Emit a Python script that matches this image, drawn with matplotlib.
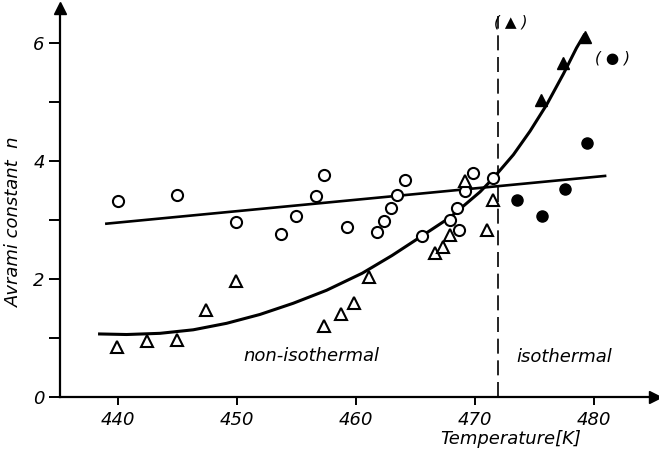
import matplotlib
matplotlib.use("Agg")
import matplotlib.pyplot as plt

plt.rcParams['font.family'] = ['DejaVu Sans']
plt.rcParams['font.style'] = 'italic'

# open circles (non-isothermal, circle series)
circ_T = [440.0, 444.9, 449.9, 453.7, 454.9, 456.6, 457.3, 459.2, 461.7, 462.3,
          462.9, 463.4, 464.1, 465.5, 467.9, 468.5, 468.6, 469.1, 469.8, 471.5]
circ_n = [3.32, 3.42, 2.97, 2.76, 3.07, 3.41, 3.77, 2.89, 2.80, 2.99,
          3.21, 3.42, 3.68, 2.73, 3.00, 3.21, 2.84, 3.50, 3.80, 3.72]
# open triangles (non-isothermal, triangle series)
tri_T = [439.9, 442.4, 444.9, 447.4, 449.9, 457.3, 458.7, 459.8, 461.1,
         466.6, 467.3, 467.9, 469.1, 471.0, 471.5]
tri_n = [0.84, 0.95, 0.97, 1.47, 1.97, 1.21, 1.41, 1.59, 2.03,
         2.44, 2.54, 2.75, 3.66, 2.84, 3.34]
# filled triangles (isothermal)
ftri_T = [475.5, 477.4, 479.2]
ftri_n = [5.03, 5.66, 6.11]
# filled circles (isothermal)
fcirc_T = [473.5, 475.6, 477.5, 479.4]
fcirc_n = [3.34, 3.07, 3.53, 4.30]
# straight fit line (circles)
fit_T = [439.0, 480.9]
fit_n = [2.94, 3.75]
# curved fit (triangles)
curve_T = [438.3, 440.7, 443.5, 446.3, 449.1, 451.9, 454.7, 457.5, 460.5, 463.0,
           465.5, 467.9, 470.4, 471.5, 473.2, 474.6, 476.0, 477.4, 478.5, 479.2]
curve_n = [1.07, 1.06, 1.08, 1.14, 1.25, 1.40, 1.59, 1.81, 2.10, 2.40,
           2.73, 3.05, 3.48, 3.71, 4.11, 4.51, 4.96, 5.48, 5.92, 6.16]
boundary_T = 471.9
x_ticks = [440, 450, 460, 470, 480]
y_ticks = [0, 1, 2, 3, 4, 5, 6]
y_ticklabels = ['0', '', '2', '', '4', '', '6']

fig = plt.figure(figsize=(6.59, 4.53), dpi=100)
ax = fig.add_axes([0.091, 0.1236, 0.903, 0.859])
xmin, xmax = 435.1, 485.1
ymin, ymax = 0, 6.6
ax.set_xlim(xmin, xmax)
ax.set_ylim(ymin, ymax)

for s in ['top', 'right']:
    ax.spines[s].set_visible(False)
for s in ['left', 'bottom']:
    ax.spines[s].set_linewidth(1.6)

# arrowheads
ax.plot(1, 0, '>', color='black', markersize=8, transform=ax.transAxes, clip_on=False)
ax.plot(0, 1, '^', color='black', markersize=8, transform=ax.transAxes, clip_on=False)

ax.set_xticks(x_ticks)
ax.set_xticklabels([str(t) for t in x_ticks])
ax.set_yticks(y_ticks)
ax.set_yticklabels(y_ticklabels)
ax.tick_params(direction='out', width=1.4, labelsize=13)
ax.tick_params(axis='y', length=8, pad=3)
ax.tick_params(axis='x', length=6, pad=4)

# lines
ax.plot(fit_T, fit_n, color='black', lw=1.9)
ax.plot(curve_T, curve_n, color='black', lw=2.2, solid_capstyle='butt',
        solid_joinstyle='round')
ax.plot([boundary_T, boundary_T], [0, 6.47], color='black', lw=1.2,
        dashes=(9, 4))

# markers
ax.plot(circ_T, circ_n, 'o', mfc='white', mec='black', mew=1.5, ms=8, zorder=3)
ax.plot(tri_T, tri_n, '^', mfc='white', mec='black', mew=1.5, ms=9, zorder=3)
ax.plot(ftri_T, ftri_n, '^', color='black', ms=9, zorder=3)
ax.plot(fcirc_T, fcirc_n, 'o', color='black', ms=8, zorder=3)

# annotations
ax.text(473.0, 6.36, '( ▲ )', fontsize=11, ha='center', va='center')
ax.text(481.5, 5.75, '( ● )', fontsize=11, ha='center', va='center')
ax.text(456.2, 0.69, 'non-isothermal', fontsize=13, ha='center', va='center')
ax.text(477.5, 0.68, 'isothermal', fontsize=13, ha='center', va='center')

ax.set_xlabel('Temperature[K]', fontsize=13)
ax.xaxis.set_label_coords((511 - 60) / 595, -0.085)
ax.set_ylabel('Avrami constant  n', fontsize=13)
ax.yaxis.set_label_coords(-0.062, (397 - 222) / 389)

fig.savefig('out.png', dpi=100)
